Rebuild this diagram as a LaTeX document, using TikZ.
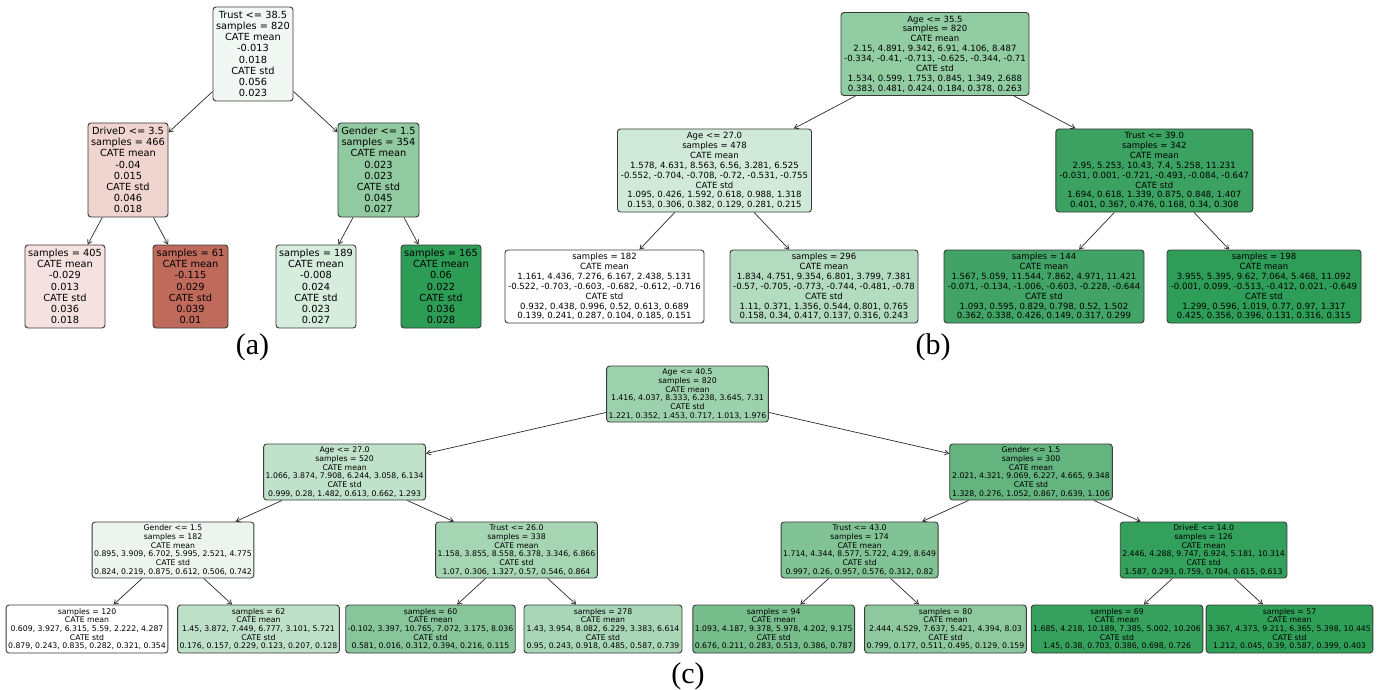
\documentclass[tikz,border=0pt]{standalone}
\usepackage{fontspec}
\setmainfont{DejaVu Sans}
\newfontfamily\labfont{Liberation Serif}
\usetikzlibrary{arrows.meta}
\definecolor{bordercol}{HTML}{3A3A3A}
\definecolor{arrowcol}{HTML}{2A2A2A}
\definecolor{ca0}{HTML}{F1F8F3}
\definecolor{ca1}{HTML}{EFD4D0}
\definecolor{ca2}{HTML}{91CAA1}
\definecolor{ca3}{HTML}{F5E2E0}
\definecolor{ca4}{HTML}{C06A5C}
\definecolor{ca5}{HTML}{D6ECDD}
\definecolor{ca6}{HTML}{2D9D55}
\definecolor{cb0}{HTML}{92CCA3}
\definecolor{cb1}{HTML}{D1E9D9}
\definecolor{cb2}{HTML}{3BA261}
\definecolor{cb3}{HTML}{FFFFFF}
\definecolor{cb4}{HTML}{B3DBC0}
\definecolor{cb5}{HTML}{41A466}
\definecolor{cb6}{HTML}{2D9D57}
\definecolor{cc0}{HTML}{9DD1AD}
\definecolor{cc1}{HTML}{C0E1CA}
\definecolor{cc2}{HTML}{63B47E}
\definecolor{cc3}{HTML}{EBF5EE}
\definecolor{cc4}{HTML}{A6D5B4}
\definecolor{cc5}{HTML}{82C396}
\definecolor{cc6}{HTML}{33A05B}
\definecolor{cc7}{HTML}{FFFFFF}
\definecolor{cc8}{HTML}{BEE0C8}
\definecolor{cc9}{HTML}{88C59B}
\definecolor{cc10}{HTML}{A9D6B7}
\definecolor{cc11}{HTML}{76BD8B}
\definecolor{cc12}{HTML}{8DC89E}
\definecolor{cc13}{HTML}{36A15D}
\definecolor{cc14}{HTML}{2F9F58}
\tikzset{
  tbox/.style={draw=bordercol, line width=0.9pt, rounded corners=3pt, align=center, inner ysep=1pt, text=black},
  pa/.style={tbox, inner xsep=3pt, font=\fontsize{9.8}{11.2}\selectfont, minimum height=94pt},
  pal/.style={tbox, inner xsep=3pt, font=\fontsize{9.8}{11.2}\selectfont, minimum height=83pt},
  pb/.style={tbox, inner xsep=3pt, font=\fontsize{8.55}{9.9}\selectfont, minimum height=83pt},
  pbl/.style={tbox, inner xsep=3pt, font=\fontsize{8.55}{9.9}\selectfont, minimum height=73pt},
  pc/.style={tbox, inner xsep=2pt, font=\fontsize{7.75}{8.7}\selectfont, minimum height=56pt},
  pcl/.style={tbox, inner xsep=2pt, font=\fontsize{7.75}{8.7}\selectfont, minimum height=48pt},
  arr/.style={draw=arrowcol, line width=0.7pt, -{Straight Barb[length=4pt,width=5pt]}},
  plabel/.style={font=\labfont\fontsize{30}{30}\selectfont, anchor=base, inner sep=0pt}
}
\begin{document}
\begin{tikzpicture}[x=1pt,y=-1pt]
\useasboundingbox (0,0) rectangle (1378,690);

% ---------------- panel (a)
\node[pa, fill=ca0, minimum width=80pt] (a0) at (253,54) {Trust <= 38.5\\samples = 820\\CATE mean\\-0.013\\0.018\\CATE std\\0.056\\0.023};
\node[pa, fill=ca1, minimum width=80pt] (a1) at (128,170) {DriveD <= 3.5\\samples = 466\\CATE mean\\-0.04\\0.015\\CATE std\\0.046\\0.018};
\node[pa, fill=ca2, minimum width=81pt] (a2) at (378.5,170) {Gender <= 1.5\\samples = 354\\CATE mean\\0.023\\0.023\\CATE std\\0.045\\0.027};
\node[pal, fill=ca3, minimum width=80pt] (a3) at (65,286.5) {samples = 405\\CATE mean\\-0.029\\0.013\\CATE std\\0.036\\0.018};
\node[pal, fill=ca4, minimum width=75pt] (a4) at (190.5,286.5) {samples = 61\\CATE mean\\-0.115\\0.029\\CATE std\\0.039\\0.01};
\node[pal, fill=ca5, minimum width=80pt] (a5) at (316,286.5) {samples = 189\\CATE mean\\-0.008\\0.024\\CATE std\\0.023\\0.027};
\node[pal, fill=ca6, minimum width=80pt] (a6) at (441,286.5) {samples = 165\\CATE mean\\0.06\\0.022\\CATE std\\0.036\\0.028};
\draw[arr] (a0) -- (a1);
\draw[arr] (a0) -- (a2);
\draw[arr] (a1) -- (a3);
\draw[arr] (a1) -- (a4);
\draw[arr] (a2) -- (a5);
\draw[arr] (a2) -- (a6);
\node[plabel] (la) at (252.5,354) {(a)};

% ---------------- panel (b)
\node[pb, fill=cb0, minimum width=188pt] (b0) at (935,54) {Age <= 35.5\\samples = 820\\CATE mean\\2.15, 4.891, 9.342, 6.91, 4.106, 8.487\\-0.334, -0.41, -0.713, -0.625, -0.344, -0.71\\CATE std\\1.534, 0.599, 1.753, 0.845, 1.349, 2.688\\0.383, 0.481, 0.424, 0.184, 0.378, 0.263};
\node[pb, fill=cb1, minimum width=194pt] (b1) at (714.5,170.5) {Age <= 27.0\\samples = 478\\CATE mean\\1.578, 4.631, 8.563, 6.56, 3.281, 6.525\\-0.552, -0.704, -0.708, -0.72, -0.531, -0.755\\CATE std\\1.095, 0.426, 1.592, 0.618, 0.988, 1.318\\0.153, 0.306, 0.382, 0.129, 0.281, 0.215};
\node[pb, fill=cb2, minimum width=197pt] (b2) at (1154.3,170.5) {Trust <= 39.0\\samples = 342\\CATE mean\\2.95, 5.253, 10.43, 7.4, 5.258, 11.231\\-0.031, 0.001, -0.721, -0.493, -0.084, -0.647\\CATE std\\1.694, 0.618, 1.339, 0.875, 0.848, 1.407\\0.401, 0.367, 0.476, 0.168, 0.34, 0.308};
\node[pbl, fill=cb3, minimum width=199pt] (b3) at (604.5,286.5) {samples = 182\\CATE mean\\1.161, 4.436, 7.276, 6.167, 2.438, 5.131\\-0.522, -0.703, -0.603, -0.682, -0.612, -0.716\\CATE std\\0.932, 0.438, 0.996, 0.52, 0.613, 0.689\\0.139, 0.241, 0.287, 0.104, 0.185, 0.151};
\node[pbl, fill=cb4, minimum width=188pt] (b4) at (824,286.5) {samples = 296\\CATE mean\\1.834, 4.751, 9.354, 6.801, 3.799, 7.381\\-0.57, -0.705, -0.773, -0.744, -0.481, -0.78\\CATE std\\1.11, 0.371, 1.356, 0.544, 0.801, 0.765\\0.158, 0.34, 0.417, 0.137, 0.316, 0.243};
\node[pbl, fill=cb5, minimum width=200pt] (b5) at (1044,286.5) {samples = 144\\CATE mean\\1.567, 5.059, 11.544, 7.862, 4.971, 11.421\\-0.071, -0.134, -1.006, -0.603, -0.228, -0.644\\CATE std\\1.093, 0.595, 0.829, 0.798, 0.52, 1.502\\0.362, 0.338, 0.426, 0.149, 0.317, 0.299};
\node[pbl, fill=cb6, minimum width=194pt] (b6) at (1264,286.5) {samples = 198\\CATE mean\\3.955, 5.395, 9.62, 7.064, 5.468, 11.092\\-0.001, 0.099, -0.513, -0.412, 0.021, -0.649\\CATE std\\1.299, 0.596, 1.019, 0.77, 0.97, 1.317\\0.425, 0.356, 0.396, 0.131, 0.316, 0.315};
\draw[arr] (b0) -- (b1);
\draw[arr] (b0) -- (b2);
\draw[arr] (b1) -- (b3);
\draw[arr] (b1) -- (b4);
\draw[arr] (b2) -- (b5);
\draw[arr] (b2) -- (b6);
\node[plabel] (lb) at (933,354) {(b)};

% ---------------- panel (c)
\node[pc, fill=cc0, minimum width=161pt] (c0) at (687.5,394) {Age <= 40.5\\samples = 820\\CATE mean\\1.416, 4.037, 8.333, 6.238, 3.645, 7.31\\CATE std\\1.221, 0.352, 1.453, 0.717, 1.013, 1.976};
\node[pc, fill=cc1, minimum width=162pt] (c1) at (344.6,472) {Age <= 27.0\\samples = 520\\CATE mean\\1.066, 3.874, 7.908, 6.244, 3.058, 6.134\\CATE std\\0.999, 0.28, 1.482, 0.613, 0.662, 1.293};
\node[pc, fill=cc2, minimum width=162.6pt] (c2) at (1031,472) {Gender <= 1.5\\samples = 300\\CATE mean\\2.021, 4.321, 9.069, 6.227, 4.665, 9.348\\CATE std\\1.328, 0.276, 1.052, 0.867, 0.639, 1.106};
\node[pc, fill=cc3, minimum width=161.6pt] (c3) at (173,550) {Gender <= 1.5\\samples = 182\\CATE mean\\0.895, 3.909, 6.702, 5.995, 2.521, 4.775\\CATE std\\0.824, 0.219, 0.875, 0.612, 0.506, 0.742};
\node[pc, fill=cc4, minimum width=161pt] (c4) at (516.5,550) {Trust <= 26.0\\samples = 338\\CATE mean\\1.158, 3.855, 8.558, 6.378, 3.346, 6.866\\CATE std\\1.07, 0.306, 1.327, 0.57, 0.546, 0.864};
\node[pc, fill=cc5, minimum width=157pt] (c5) at (859.6,550) {Trust <= 43.0\\samples = 174\\CATE mean\\1.714, 4.344, 8.577, 5.722, 4.29, 8.649\\CATE std\\0.997, 0.26, 0.957, 0.576, 0.312, 0.82};
\node[pc, fill=cc6, minimum width=166pt] (c6) at (1203.6,550) {DriveE <= 14.0\\samples = 126\\CATE mean\\2.446, 4.288, 9.747, 6.924, 5.181, 10.314\\CATE std\\1.587, 0.293, 0.759, 0.704, 0.615, 0.613};
\node[pcl, fill=cc7, minimum width=161pt] (c7) at (87,629) {samples = 120\\CATE mean\\0.609, 3.927, 6.315, 5.59, 2.222, 4.287\\CATE std\\0.879, 0.243, 0.835, 0.282, 0.321, 0.354};
\node[pcl, fill=cc8, minimum width=161pt] (c8) at (258.5,629) {samples = 62\\CATE mean\\1.45, 3.872, 7.449, 6.777, 3.101, 5.721\\CATE std\\0.176, 0.157, 0.229, 0.123, 0.207, 0.128};
\node[pcl, fill=cc9, minimum width=169pt] (c9) at (430.5,629) {samples = 60\\CATE mean\\-0.102, 3.397, 10.765, 7.072, 3.175, 8.036\\CATE std\\0.581, 0.016, 0.312, 0.394, 0.216, 0.115};
\node[pcl, fill=cc10, minimum width=158pt] (c10) at (603,629) {samples = 278\\CATE mean\\1.43, 3.954, 8.082, 6.229, 3.383, 6.614\\CATE std\\0.95, 0.243, 0.918, 0.485, 0.587, 0.739};
\node[pcl, fill=cc11, minimum width=161pt] (c11) at (773.7,629) {samples = 94\\CATE mean\\1.093, 4.187, 9.378, 5.978, 4.202, 9.175\\CATE std\\0.676, 0.211, 0.283, 0.513, 0.386, 0.787};
\node[pcl, fill=cc12, minimum width=161pt] (c12) at (945.5,629) {samples = 80\\CATE mean\\2.444, 4.529, 7.637, 5.421, 4.394, 8.03\\CATE std\\0.799, 0.177, 0.511, 0.495, 0.129, 0.159};
\node[pcl, fill=cc13, minimum width=170pt] (c13) at (1117,629) {samples = 69\\CATE mean\\1.685, 4.218, 10.189, 7.385, 5.002, 10.206\\CATE std\\1.45, 0.38, 0.703, 0.386, 0.698, 0.726};
\node[pcl, fill=cc14, minimum width=166pt] (c14) at (1289.5,629) {samples = 57\\CATE mean\\3.367, 4.373, 9.211, 6.365, 5.398, 10.445\\CATE std\\1.212, 0.045, 0.39, 0.587, 0.399, 0.403};
\draw[arr] (c0) -- (c1);
\draw[arr] (c0) -- (c2);
\draw[arr] (c1) -- (c3);
\draw[arr] (c1) -- (c4);
\draw[arr] (c2) -- (c5);
\draw[arr] (c2) -- (c6);
\draw[arr] (c3) -- (c7);
\draw[arr] (c3) -- (c8);
\draw[arr] (c4) -- (c9);
\draw[arr] (c4) -- (c10);
\draw[arr] (c5) -- (c11);
\draw[arr] (c5) -- (c12);
\draw[arr] (c6) -- (c13);
\draw[arr] (c6) -- (c14);
\node[plabel] (lc) at (688,683.5) {(c)};
\end{tikzpicture}
\end{document}
